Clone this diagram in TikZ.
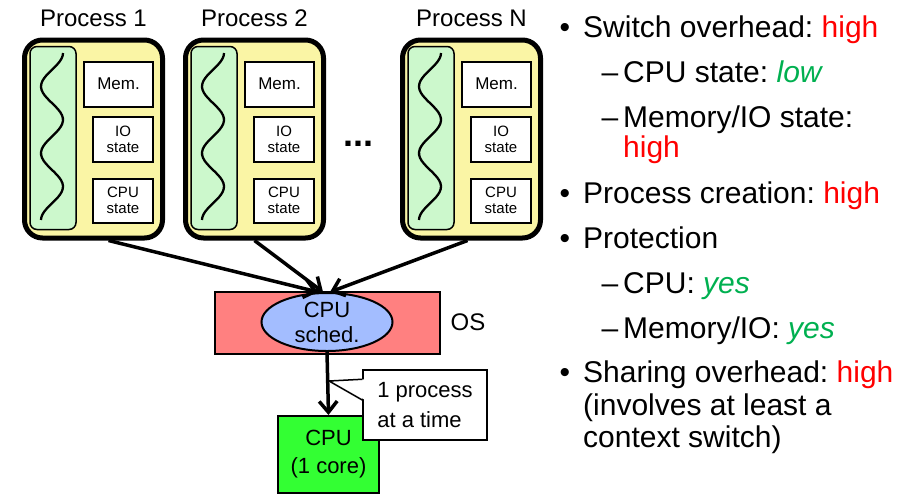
\documentclass[tikz,border=0pt]{standalone}
\usepackage{fontspec}
\setmainfont{Liberation Sans}
\usetikzlibrary{arrows.meta,calc,shapes.geometric}
\frenchspacing

\definecolor{procyellow}{HTML}{FAF5A5}
\definecolor{threadgreen}{HTML}{CCF8CC}
\definecolor{osred}{HTML}{FF8080}
\definecolor{schedblue}{HTML}{A3BDFF}
\definecolor{cpugreen}{HTML}{33FF33}
\definecolor{hired}{HTML}{FF0000}
\definecolor{logreen}{HTML}{00B050}

\newcommand{\bul}{\llap{\textbullet\hspace{13pt}}}
\newcommand{\sub}{\llap{–\hspace{5pt}}}

\tikzset{
  proc/.style={draw, line width=5pt, fill=procyellow, rounded corners=18pt,
    minimum width=138pt, minimum height=198pt},
  thread/.style={draw, line width=1.5pt, fill=threadgreen, rounded corners=7pt,
    minimum width=46pt, minimum height=183pt},
  statebox/.style={draw, line width=2pt, fill=white, align=center, inner sep=0pt,
    font=\fontsize{15}{16}\selectfont},
  flow/.style={line width=3.5pt, -{Straight Barb[length=11pt,width=18pt]}},
  bigtxt/.style={font=\fontsize{30}{34}\selectfont, anchor=base west, inner sep=0pt},
}

\begin{document}
\begin{tikzpicture}[x=1pt,y=-1pt]
\useasboundingbox (0,0) rectangle (918,496);

% Processes
\foreach \x/\n/\t in {22/p1/Process 1, 183/p2/Process 2, 400/pN/Process N}{
  \node[proc] (\n) at (\x+71.5,139) {};
  \node[font=\fontsize{24}{26}\selectfont, anchor=base] (\n-lbl) at (\x+71.5,26) {\t};
  \node[thread] (\n-thr) at (\x+31,138) {};
  \draw[line width=2.3pt, smooth, samples=60, domain=0:5, variable=\s]
    plot ({\x+30+11*cos(180*\s)},{53+33.4*\s});
  \node[statebox, minimum width=69pt, minimum height=45pt,
    font=\fontsize{17}{18}\selectfont] (\n-mem) at (\x+96.5,84) {Mem.};
  \node[statebox, minimum width=60pt, minimum height=45pt] (\n-io) at (\x+101,139) {IO\\state};
  \node[statebox, minimum width=60pt, minimum height=44pt] (\n-cpu) at (\x+101,200.5) {CPU\\state};
}
\node[font=\bfseries\fontsize{36}{36}\selectfont, anchor=base, inner sep=0pt] (dots) at (358,146) {...};

% OS and scheduler
\node[draw, line width=2pt, fill=osred, minimum width=225pt, minimum height=62pt] (os) at (327.5,323) {};
\node[ellipse, draw, line width=2pt, fill=schedblue, minimum width=131pt, minimum height=58pt,
  align=center, inner sep=0pt, font=\fontsize{22}{25}\selectfont] (sched) at (327,322) {CPU\\sched.};
\node[font=\fontsize{24}{26}\selectfont] (oslbl) at (468,322) {OS};

\draw[flow] ([xshift=15pt]p1.south) -- ([xshift=-9pt]sched.north);
\draw[flow] (p2.south) -- ([xshift=-4pt]sched.north);
\draw[flow] ([xshift=-4pt]pN.south) -- ([xshift=3pt]sched.north);

% CPU
\node[draw, line width=2pt, fill=cpugreen, minimum width=101pt, minimum height=77pt,
  align=center, font=\fontsize{22}{28}\selectfont] (cpu) at (328.5,454.5) {CPU\\(1 core)};
\draw[flow] (sched.south) -- (cpu.north);

% Callout
\coordinate (tip) at (329,381);
\node[draw, line width=1.5pt, fill=white, minimum width=124pt, minimum height=70pt,
  align=left, inner sep=0pt, font=\fontsize{22}{30}\selectfont] (note) at (425,405) {1 process\\at a time};
\coordinate (ca) at ($(note.north west)!0.14!(note.south west)$);
\coordinate (cb) at ($(note.north west)!0.43!(note.south west)$);
\fill[white] ([xshift=3pt]ca) -- (tip) -- ([xshift=3pt]cb) -- cycle;
\draw[line width=1.5pt] (ca) -- (tip) -- (cb);

% Summary
\node[bigtxt] (t1) at (583,37) {\bul Switch overhead: \textcolor{hired}{high}};
\node[bigtxt] (t2) at (623,82) {\sub CPU state: \textcolor{logreen}{\itshape low}};
\node[bigtxt] (t3) at (623,127) {\sub Memory/IO state:};
\node[bigtxt] (t4) at (623,157) {\textcolor{hired}{high}};
\node[bigtxt] (t5) at (583,203) {\bul Process creation: \textcolor{hired}{high}};
\node[bigtxt] (t6) at (583,248) {\bul Protection};
\node[bigtxt] (t7) at (623,293) {\sub CPU: \textcolor{logreen}{\itshape yes}};
\node[bigtxt] (t8) at (623,338) {\sub Memory/IO: \textcolor{logreen}{\itshape yes}};
\node[bigtxt] (t9) at (583,382) {\bul Sharing overhead: \textcolor{hired}{high}};
\node[bigtxt] (t10) at (583,415) {(involves at least a};
\node[bigtxt] (t11) at (583,447) {context switch)};
\end{tikzpicture}
\end{document}
